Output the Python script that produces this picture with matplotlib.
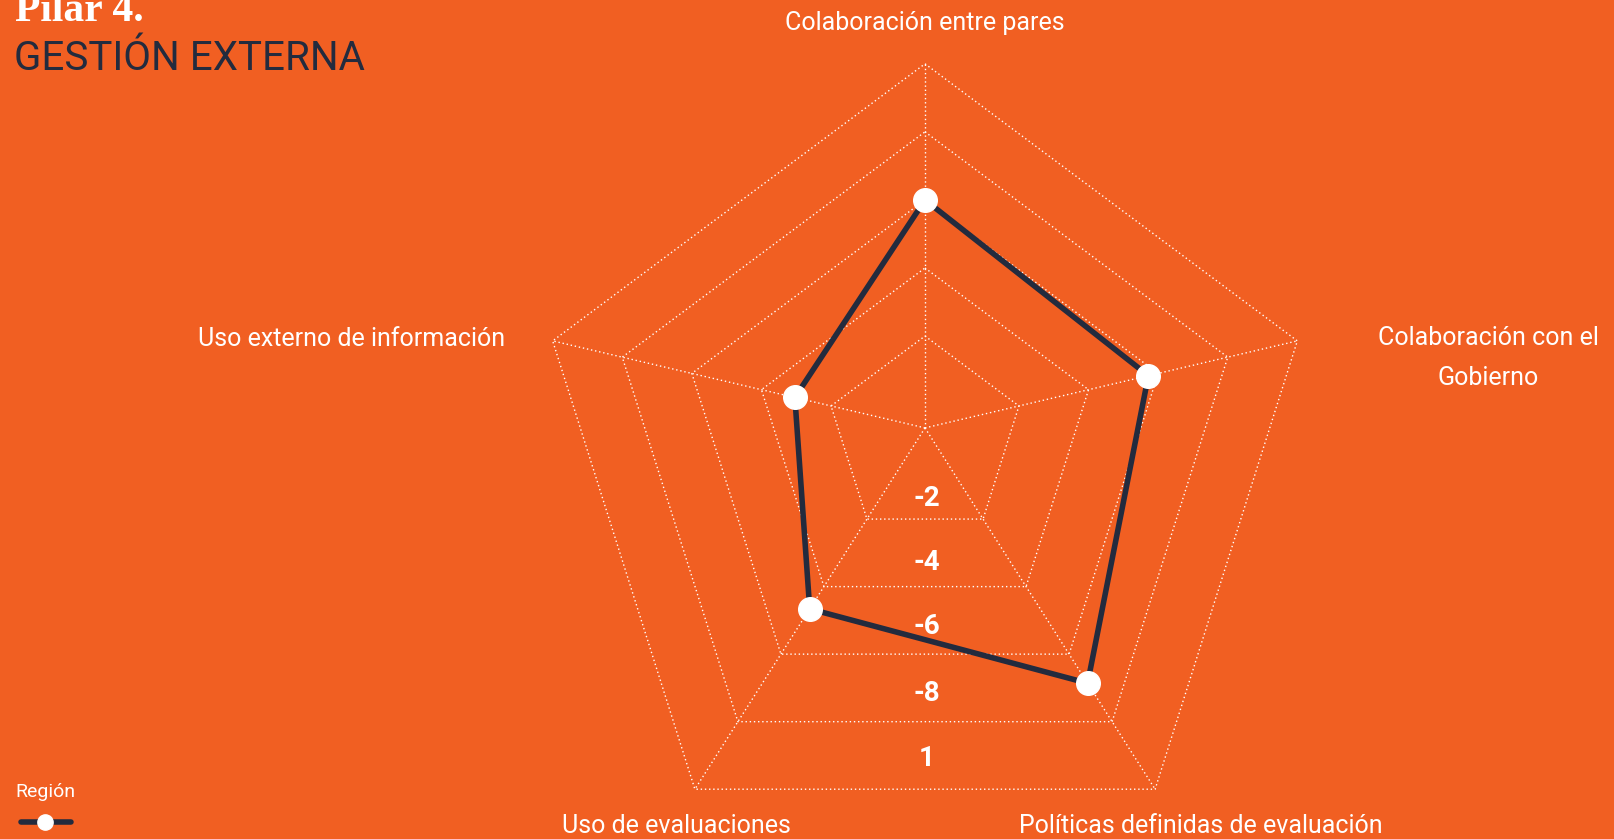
import numpy as np
import matplotlib
matplotlib.use('Agg')
import matplotlib.pyplot as plt

# Data
categories = ['Colaboración entre pares', 'Colaboración con el\nGobierno',
              'Políticas definidas de evaluación', 'Uso de evaluaciones',
              'Uso externo de información']
region = [3.0, 2.86, 3.43, 2.33, 1.52]
ring_levels = [1, 2, 3, 4, 5]
ring_labels = ['-2', '-4', '-6', '-8', '1']

BG = '#F15F22'
NAVY = '#232B3E'
FONT = ['Roboto', 'DejaVu Sans']

# radial scale (axis origin sits a little below the first ring)
vmin, vmax = -0.35, 5.0
hub = np.array([0.0, 0.092])
angles = np.deg2rad(90 - 72 * np.arange(len(categories)))
vertices = np.column_stack([np.cos(angles), np.sin(angles)])


def to_xy(values):
    t = (np.asarray(values, float) - vmin) / (vmax - vmin)
    return hub + t[:, None] * (vertices - hub)


W, H = 1615, 839
fig = plt.figure(figsize=(W / 100, H / 100), dpi=100, facecolor=BG)
ax = fig.add_axes([0, 0, 1, 1])
ax.set_facecolor(BG)
rx, ry = 391.5, 401.0
cx, cy = 925, 464.8
ax.set_xlim(-cx / rx, (W - cx) / rx)
ax.set_ylim(-(H - cy) / ry, cy / ry)
ax.axis('off')

# grid rings and spokes
for k in ring_levels:
    pts = to_xy([k] * len(categories))
    pts = np.vstack([pts, pts[:1]])
    ax.plot(pts[:, 0], pts[:, 1], color='white', lw=1.0, ls=(0, (1, 2)), zorder=1)
outer = to_xy([vmax] * len(categories))
for p in outer:
    ax.plot([hub[0], p[0]], [hub[1], p[1]], color='white', lw=1.0, ls=(0, (1, 2)), zorder=1)

# ring labels along the bottom, just above each ring's bottom edge
label_pos = [0.70, 1.64, 2.59, 3.59, 4.55]
bottom_y = outer[2, 1]
for pos, lab in zip(label_pos, ring_labels):
    t = (pos - vmin) / (vmax - vmin)
    y = hub[1] + t * (bottom_y - hub[1])
    ax.text(0.005, y, lab, color='white', fontsize=20, fontweight='bold',
            ha='center', va='center', family=FONT, zorder=2)

# data series
pts = to_xy(region)
pts = np.vstack([pts, pts[:1]])
ax.plot(pts[:, 0], pts[:, 1], color=NAVY, lw=4, zorder=3, solid_joinstyle='miter')
ax.plot(pts[:-1, 0], pts[:-1, 1], 'o', ms=17, color='white', mec='white', zorder=4)

# axis labels
lab_kw = dict(color='white', fontsize=18, family=FONT, linespacing=1.85)
fig.text(925 / W, 1 - 23 / H, categories[0], ha='center', va='center', **lab_kw)
fig.text(1488 / W, 1 - 358 / H, categories[1], ha='center', va='center', **lab_kw)
fig.text(1201 / W, 1 - 826 / H, categories[2], ha='center', va='center', **lab_kw)
fig.text(676 / W, 1 - 826 / H, categories[3], ha='center', va='center', **lab_kw)
fig.text(505 / W, 1 - 339 / H, categories[4], ha='right', va='center', **lab_kw)

# titles
fig.text(15 / W, 1 - 21 / H, 'Pilar 4.', color='white', fontsize=30,
         fontweight='bold', family=['Liberation Serif', 'DejaVu Serif'],
         ha='left', va='baseline')
fig.text(14 / W, 1 - 70 / H, 'GESTIÓN EXTERNA', color=NAVY, fontsize=29,
         fontweight='normal', family=FONT, ha='left', va='baseline')

# legend
fig.text(15 / W, 1 - 792 / H, 'Región', color='white', fontsize=14,
         family=FONT, ha='left', va='center')
fig.add_artist(plt.Line2D([21 / W, 71 / W], [1 - 822 / H] * 2, color=NAVY,
                          lw=4, solid_capstyle='round'))
fig.add_artist(plt.Line2D([45 / W], [1 - 822 / H], marker='o', ms=11,
                          color='white', mec='white'))

fig.savefig('out.png', dpi=100, facecolor=BG)
